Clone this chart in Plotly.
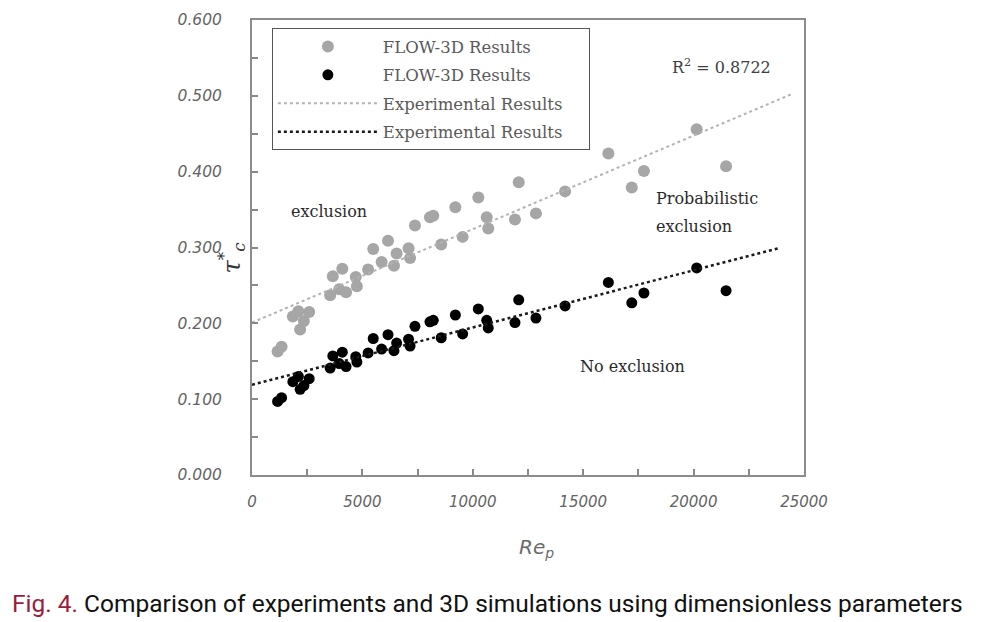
import plotly.graph_objects as go

# ---- data ----
re_p = [1160, 1340, 1850, 2100, 2590, 2350, 2180, 3540, 3950, 4260,
        3660, 4090, 4750, 4700, 5260, 5490, 5870, 6160, 6430, 6550,
        7090, 7160, 7380, 8060, 8210, 8570, 9210, 9540, 10250, 10630,
        10700, 11910, 12080, 12860, 14180, 16140, 17200, 17750, 20140, 21470]

tau_gray = [0.163, 0.169, 0.209, 0.216, 0.215, 0.203, 0.192, 0.237, 0.245, 0.241,
            0.262, 0.272, 0.249, 0.261, 0.271, 0.298, 0.281, 0.309, 0.276, 0.292,
            0.299, 0.286, 0.329, 0.340, 0.342, 0.304, 0.353, 0.314, 0.366, 0.340,
            0.325, 0.337, 0.386, 0.345, 0.374, 0.424, 0.379, 0.401, 0.456, 0.407]

tau_black = [0.097, 0.102, 0.123, 0.130, 0.127, 0.118, 0.113, 0.141, 0.147, 0.143,
             0.157, 0.162, 0.149, 0.156, 0.161, 0.180, 0.166, 0.185, 0.164, 0.174,
             0.179, 0.170, 0.196, 0.202, 0.204, 0.181, 0.211, 0.186, 0.219, 0.204,
             0.194, 0.201, 0.231, 0.207, 0.223, 0.254, 0.227, 0.240, 0.273, 0.243]

trend_gray_x = [0, 24500]
trend_gray_y = [0.201, 0.503]
trend_black_x = [0, 23850]
trend_black_y = [0.119, 0.299]

x_ticks = [0, 2500, 5000, 7500, 10000, 12500, 15000, 17500, 20000, 22500, 25000]
x_ticktext = ["0", "", "5000", "", "10000", "", "15000", "", "20000", "", "25000"]
y_ticks = [0, 0.05, 0.1, 0.15, 0.2, 0.25, 0.3, 0.35, 0.4, 0.45, 0.5, 0.55, 0.6]
y_ticktext = ["0.000", "", "0.100", "", "0.200", "", "0.300", "", "0.400", "", "0.500", "", "0.600"]

NB = "\u00a0"
legend_font = dict(family="DejaVu Serif", size=16.5, color="#5a5a5a")
tick_font = dict(family="DejaVu Sans", size=15.5, color="#636363", style="italic")
note_font = dict(family="DejaVu Serif", size=16, color="#2a2a2a")

fig = go.Figure()
fig.add_trace(go.Scatter(x=re_p, y=tau_gray, mode="markers", name="FLOW-3D Results",
                         marker=dict(color="#a6a6a6", size=12), legendgroup="a"))
fig.add_trace(go.Scatter(x=re_p, y=tau_black, mode="markers", name="FLOW-3D Results",
                         marker=dict(color="#000000", size=11), legendgroup="b"))
fig.add_trace(go.Scatter(x=trend_gray_x, y=trend_gray_y, mode="lines",
                         name="Experimental Results" + NB * 4,
                         line=dict(color="#b3b3b3", width=2, dash="dot"), legendgroup="c"))
fig.add_trace(go.Scatter(x=trend_black_x, y=trend_black_y, mode="lines",
                         name="Experimental Results" + NB * 4,
                         line=dict(color="#1a1a1a", width=2.5, dash="dot"), legendgroup="d"))

fig.update_layout(
    width=982, height=622,
    margin=dict(l=252, r=178, t=20, b=146.5),
    paper_bgcolor="white", plot_bgcolor="white",
    showlegend=True,
    legend=dict(x=0.036, y=0.982, xanchor="left", yanchor="top",
                bordercolor="#555555", borderwidth=1, bgcolor="white",
                font=legend_font, itemwidth=100, tracegroupgap=4,
                traceorder="grouped"),
    xaxis=dict(range=[0, 25000], tickvals=x_ticks, ticktext=x_ticktext,
               ticks="inside", ticklen=6, tickcolor="#888888", tickwidth=1.5,
               showline=True, linecolor="#8c8c8c", linewidth=2, mirror=True,
               showgrid=False, zeroline=False,
               tickfont=dict(family="DejaVu Sans", size=15, color="#636363", style="italic"),
               ticklabelstandoff=12),
    yaxis=dict(range=[0, 0.6], tickvals=y_ticks, ticktext=y_ticktext,
               ticks="inside", ticklen=6, tickcolor="#888888", tickwidth=1.5,
               showline=True, linecolor="#8c8c8c", linewidth=2, mirror=True,
               showgrid=False, zeroline=False, tickfont=tick_font,
               ticklabelstandoff=25),
)

fig.add_annotation(xref="paper", yref="paper", x=0.757, y=0.925, xanchor="left",
                   text="R<sup>2</sup> = 0.8722", showarrow=False,
                   font=dict(family="DejaVu Serif", size=16, color="#404040"))
fig.add_annotation(x=3500, y=0.348, xanchor="center", text="exclusion", showarrow=False,
                   font=note_font)
fig.add_annotation(x=18200, y=0.365, xanchor="left", text="Probabilistic", showarrow=False,
                   font=note_font)
fig.add_annotation(x=18200, y=0.328, xanchor="left", text="exclusion", showarrow=False,
                   font=note_font)
fig.add_annotation(x=17250, y=0.143, xanchor="center", text="No exclusion", showarrow=False,
                   font=note_font)
# axis titles
fig.add_annotation(xref="paper", yref="paper", x=0.515, y=-0.16, yanchor="middle",
                   text="Re<sub>p</sub>", showarrow=False,
                   font=dict(family="DejaVu Sans", size=20, color="#6a6a6a", style="italic"))
fig.add_annotation(xref="paper", yref="paper", x=-0.038, y=0.478, xanchor="center", yanchor="middle",
                   textangle=-90,
                   text="τ<sup>*</sup><sub>c</sub>", showarrow=False,
                   font=dict(family="DejaVu Serif", size=24, color="#333333", style="italic"))
# caption
fig.add_annotation(xref="paper", yref="paper", x=-0.438, y=-0.282, xanchor="left", yanchor="middle",
                   text="<span style='color:#9b1c3c'>Fig. 4.</span> Comparison of experiments and 3D simulations using dimensionless parameters",
                   showarrow=False,
                   font=dict(family="Roboto", size=24.5, color="#111111"))

fig.write_html("out.html", config={"displayModeBar": False},
               post_script="document.body.style.margin='0';")
